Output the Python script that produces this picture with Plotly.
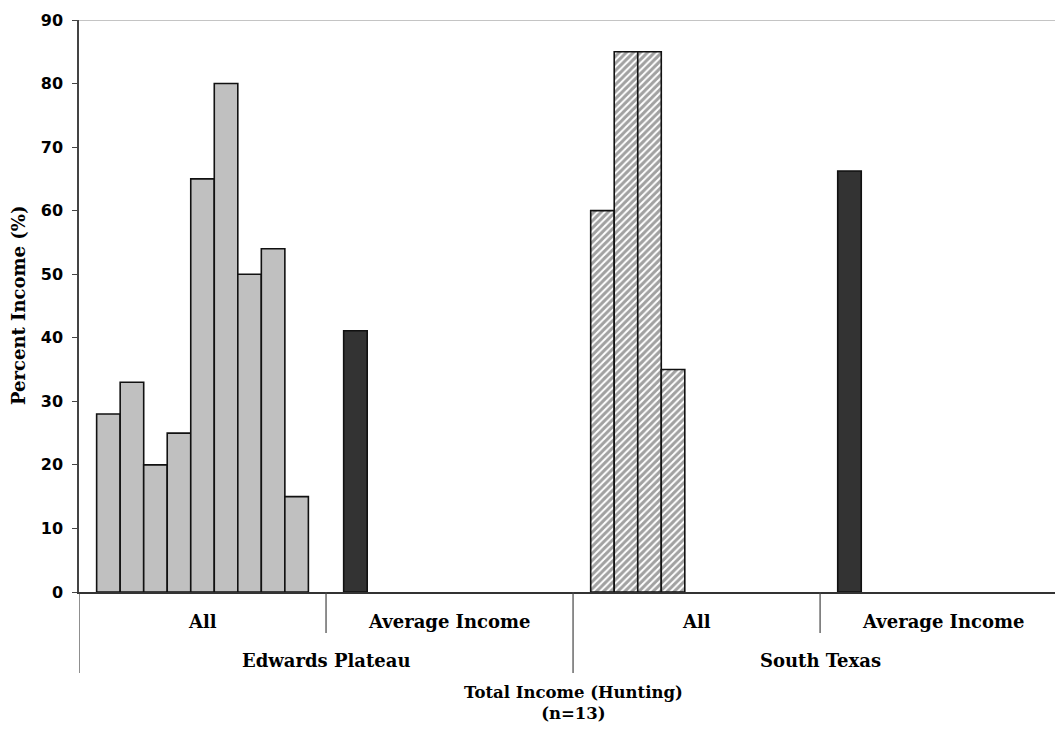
import plotly.graph_objects as go

# Percent of ranch income from hunting, by region
regions = ["Edwards Plateau", "Edwards Plateau", "South Texas", "South Texas"]
groups = ["All", "Average Income", "All", "Average Income"]
edwards_all = [28, 33, 20, 25, 65, 80, 50, 54, 15]
edwards_avg = 41.1
south_texas_all = [60, 85, 85, 35]
south_texas_avg = 66.25
y_ticks = [0, 10, 20, 30, 40, 50, 60, 70, 80, 90]

GRAY = "#C0C0C0"
DARK = "#333333"
SERIF = "DejaVu Serif"
SANS = "DejaVu Sans"

n_slots = max(len(edwards_all), len(south_texas_all))
x_pos = list(range(len(groups)))

fig = go.Figure()
for i in range(n_slots):
    ys = [
        edwards_all[i] if i < len(edwards_all) else None,
        edwards_avg if i == 0 else None,
        south_texas_all[i] if i < len(south_texas_all) else None,
        south_texas_avg if i == 0 else None,
    ]
    fig.add_trace(go.Bar(
        x=x_pos,
        y=ys,
        marker=dict(
            color=[GRAY, DARK, "white", DARK],
            line=dict(color="#111111", width=1.6),
            pattern=dict(shape=["", "", "/", ""], fgcolor="#2a2a2a",
                         fillmode="overlay", size=5, solidity=0.6),
        ),
        showlegend=False,
        hoverinfo="skip",
    ))

# vertical separators under the axis
shapes = []
for xv in [0.5, 2.5]:
    shapes.append(dict(type="line", xref="x", yref="paper", x0=xv, x1=xv,
                       y0=0, y1=-0.0717, line=dict(color="#444", width=1.2)))
for xv in [-0.5, 1.5, 3.5]:
    shapes.append(dict(type="line", xref="x", yref="paper", x0=xv, x1=xv,
                       y0=0, y1=-0.1416, line=dict(color="#444", width=1.2)))
# plot-area top border
shapes.append(dict(type="line", xref="paper", yref="y", x0=0, x1=1, y0=90, y1=90,
                   line=dict(color="#8a8a8a", width=1.2)))

label_font = dict(family=SERIF, size=18, color="black", weight="bold")
annotations = []
for xv, g in zip(x_pos, groups):
    annotations.append(dict(x=xv, y=-0.0515, xref="x", yref="paper", text=g,
                            showarrow=False, yanchor="middle", font=label_font))
for xv, r in [(0.5, regions[0]), (2.5, regions[2])]:
    annotations.append(dict(x=xv, y=-0.1193, xref="x", yref="paper", text=r,
                            showarrow=False, yanchor="middle", font=label_font))
annotations.append(dict(x=1.5, y=-0.1932, xref="x", yref="paper",
                        text="Total Income (Hunting)<br>(n=13)", showarrow=False,
                        yanchor="middle", align="center",
                        font=dict(family=SERIF, size=16.5, color="black", weight="bold")))
annotations.append(dict(x=0, y=0.5, xref="paper", yref="paper", xshift=-61,
                        text="Percent Income (%)", textangle=-90, showarrow=False,
                        xanchor="center", yanchor="middle",
                        font=dict(family=SERIF, size=18, color="black", weight="bold")))

fig.update_layout(
    width=1055, height=731,
    margin=dict(l=79, r=0, t=20, b=139),
    plot_bgcolor="white", paper_bgcolor="white",
    barmode="group", bargap=1.5 / 10.5, bargroupgap=0,
    shapes=shapes, annotations=annotations,
    xaxis=dict(range=[-0.5, 3.451], showticklabels=False, ticks="",
               showgrid=False, zeroline=False, showline=True,
               linecolor="#333", linewidth=1.5, fixedrange=True),
    yaxis=dict(range=[0, 90], tickvals=y_ticks, ticks="outside", ticklen=5,
               tickcolor="#444", tickwidth=1.2, showgrid=False, zeroline=False,
               showline=True, linecolor="#444", linewidth=1.5,
               ticklabelstandoff=6,
               tickfont=dict(family=SANS, size=16, color="black", weight="bold")),
)

fig.write_html("out.html")
